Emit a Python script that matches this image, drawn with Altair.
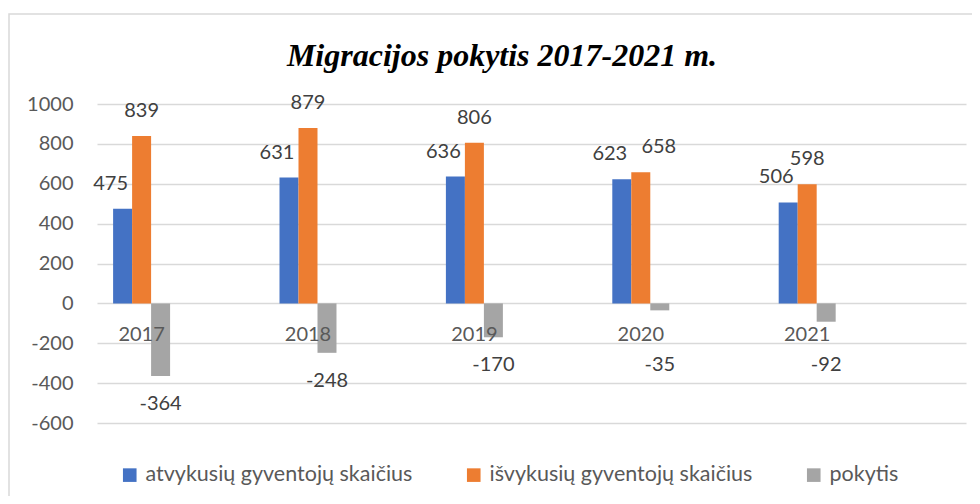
import altair as alt
import pandas as pd

title_text = "Migracijos pokytis 2017-2021 m."
years = ["2017", "2018", "2019", "2020", "2021"]
series_names = ["atvykusių gyventojų skaičius", "išvykusių gyventojų skaičius", "pokytis"]
arrived = [475, 631, 636, 623, 506]
departed = [839, 879, 806, 658, 598]
change = [-364, -248, -170, -35, -92]
colors = ["#4472C4", "#ED7D31", "#A5A5A5"]
y_ticks = [-600, -400, -200, 0, 200, 400, 600, 800, 1000]

rows = []
for i, yr in enumerate(years):
    for s, vals in zip(series_names, [arrived, departed, change]):
        rows.append({"year": yr, "series": s, "value": vals[i], "label": str(vals[i]),
                     "gap": departed[i] - arrived[i]})
df = pd.DataFrame(rows)

FONT = "Lato"

x_enc = alt.X("year:N", sort=years, axis=None,
              scale=alt.Scale(paddingInner=0.6575, paddingOuter=0.44, align=0.11))
xoff = alt.XOffset("series:N", sort=series_names,
                   scale=alt.Scale(domain=series_names, paddingInner=0, paddingOuter=0))

y_axis = alt.Axis(values=y_ticks, grid=True, gridColor="#d9d9d9", gridWidth=1.3,
                  domain=False, ticks=False, labelPadding=24, labelFontSize=20,
                  labelFont=FONT, labelColor="#595959", title=None,
                  labelOverlap=False, labelExpr="'' + datum.value")
y_scale = alt.Scale(domain=[-600, 1000], nice=False, zero=False)

base = alt.Chart(df)

bars = base.mark_bar().encode(
    x=x_enc,
    xOffset=xoff,
    y=alt.Y("value:Q", scale=y_scale, axis=y_axis),
    color=alt.Color("series:N",
                    scale=alt.Scale(domain=series_names, range=colors),
                    legend=alt.Legend(orient="none", legendX=22, legendY=360,
                                      direction="horizontal", title=None,
                                      symbolType="square", symbolSize=185,
                                      symbolStrokeWidth=0, labelFontSize=21.5,
                                      labelFont=FONT, labelColor="#595959",
                                      columnPadding=50, labelOffset=5,
                                      labelLimit=500, padding=0)),
)

txt = dict(baseline="middle", fontSize=20, font=FONT, color="#404040")

year_labels = base.transform_filter(alt.datum.series == "pokytis").mark_text(
    dy=32, baseline="middle", fontSize=20, font=FONT, color="#595959"
).encode(x=x_enc, y=alt.Y(datum=0, scale=y_scale, axis=y_axis), text="year:N")

lbl_a = base.transform_filter(alt.datum.series == series_names[0]).mark_text(
    dy=-25, dx=-12, **txt
).encode(x=x_enc, xOffset=xoff, y=alt.Y("value:Q", scale=y_scale, axis=y_axis), text="label:N")

lbl_b = base.transform_filter(
    (alt.datum.series == series_names[1]) & (alt.datum.gap >= 60)
).mark_text(dy=-25, **txt).encode(
    x=x_enc, xOffset=xoff, y=alt.Y("value:Q", scale=y_scale, axis=y_axis), text="label:N")

lbl_b2 = base.transform_filter(
    (alt.datum.series == series_names[1]) & (alt.datum.gap < 60)
).mark_text(dy=-25, dx=18, **txt).encode(
    x=x_enc, xOffset=xoff, y=alt.Y("value:Q", scale=y_scale, axis=y_axis), text="label:N")

lbl_c = base.transform_filter(alt.datum.series == series_names[2]).transform_calculate(
    ly="min(datum.value, -170)"
).mark_text(dy=28, **txt).encode(
    x=x_enc, xOffset=xoff, y=alt.Y("ly:Q", scale=y_scale, axis=y_axis), text="label:N")

border = alt.Chart(pd.DataFrame({"k": [0]})).mark_rect(
    fillOpacity=0, stroke="#d9d9d9", strokeWidth=1.5
).encode(x=alt.value(-88), y=alt.value(-90), x2=alt.value(1200), y2=alt.value(800))

title = alt.Chart(pd.DataFrame({"t": [title_text]})).mark_text(
    font="Liberation Serif", fontSize=32, fontWeight="bold", fontStyle="italic",
    color="black", align="center", baseline="alphabetic"
).encode(x=alt.value(405), y=alt.value(-38.5), text="t:N")

chart = alt.layer(border, title, bars, year_labels, lbl_a, lbl_b, lbl_b2, lbl_c).properties(
    width=869, height=319,
    autosize=alt.AutoSizeParams(type="none"),
    padding={"left": 89, "top": 96, "right": 6, "bottom": 73},
).configure_view(stroke=None).configure_axis(labelOverlap=False)

chart.save("out.html", embed_options={"renderer": "svg", "actions": False})
